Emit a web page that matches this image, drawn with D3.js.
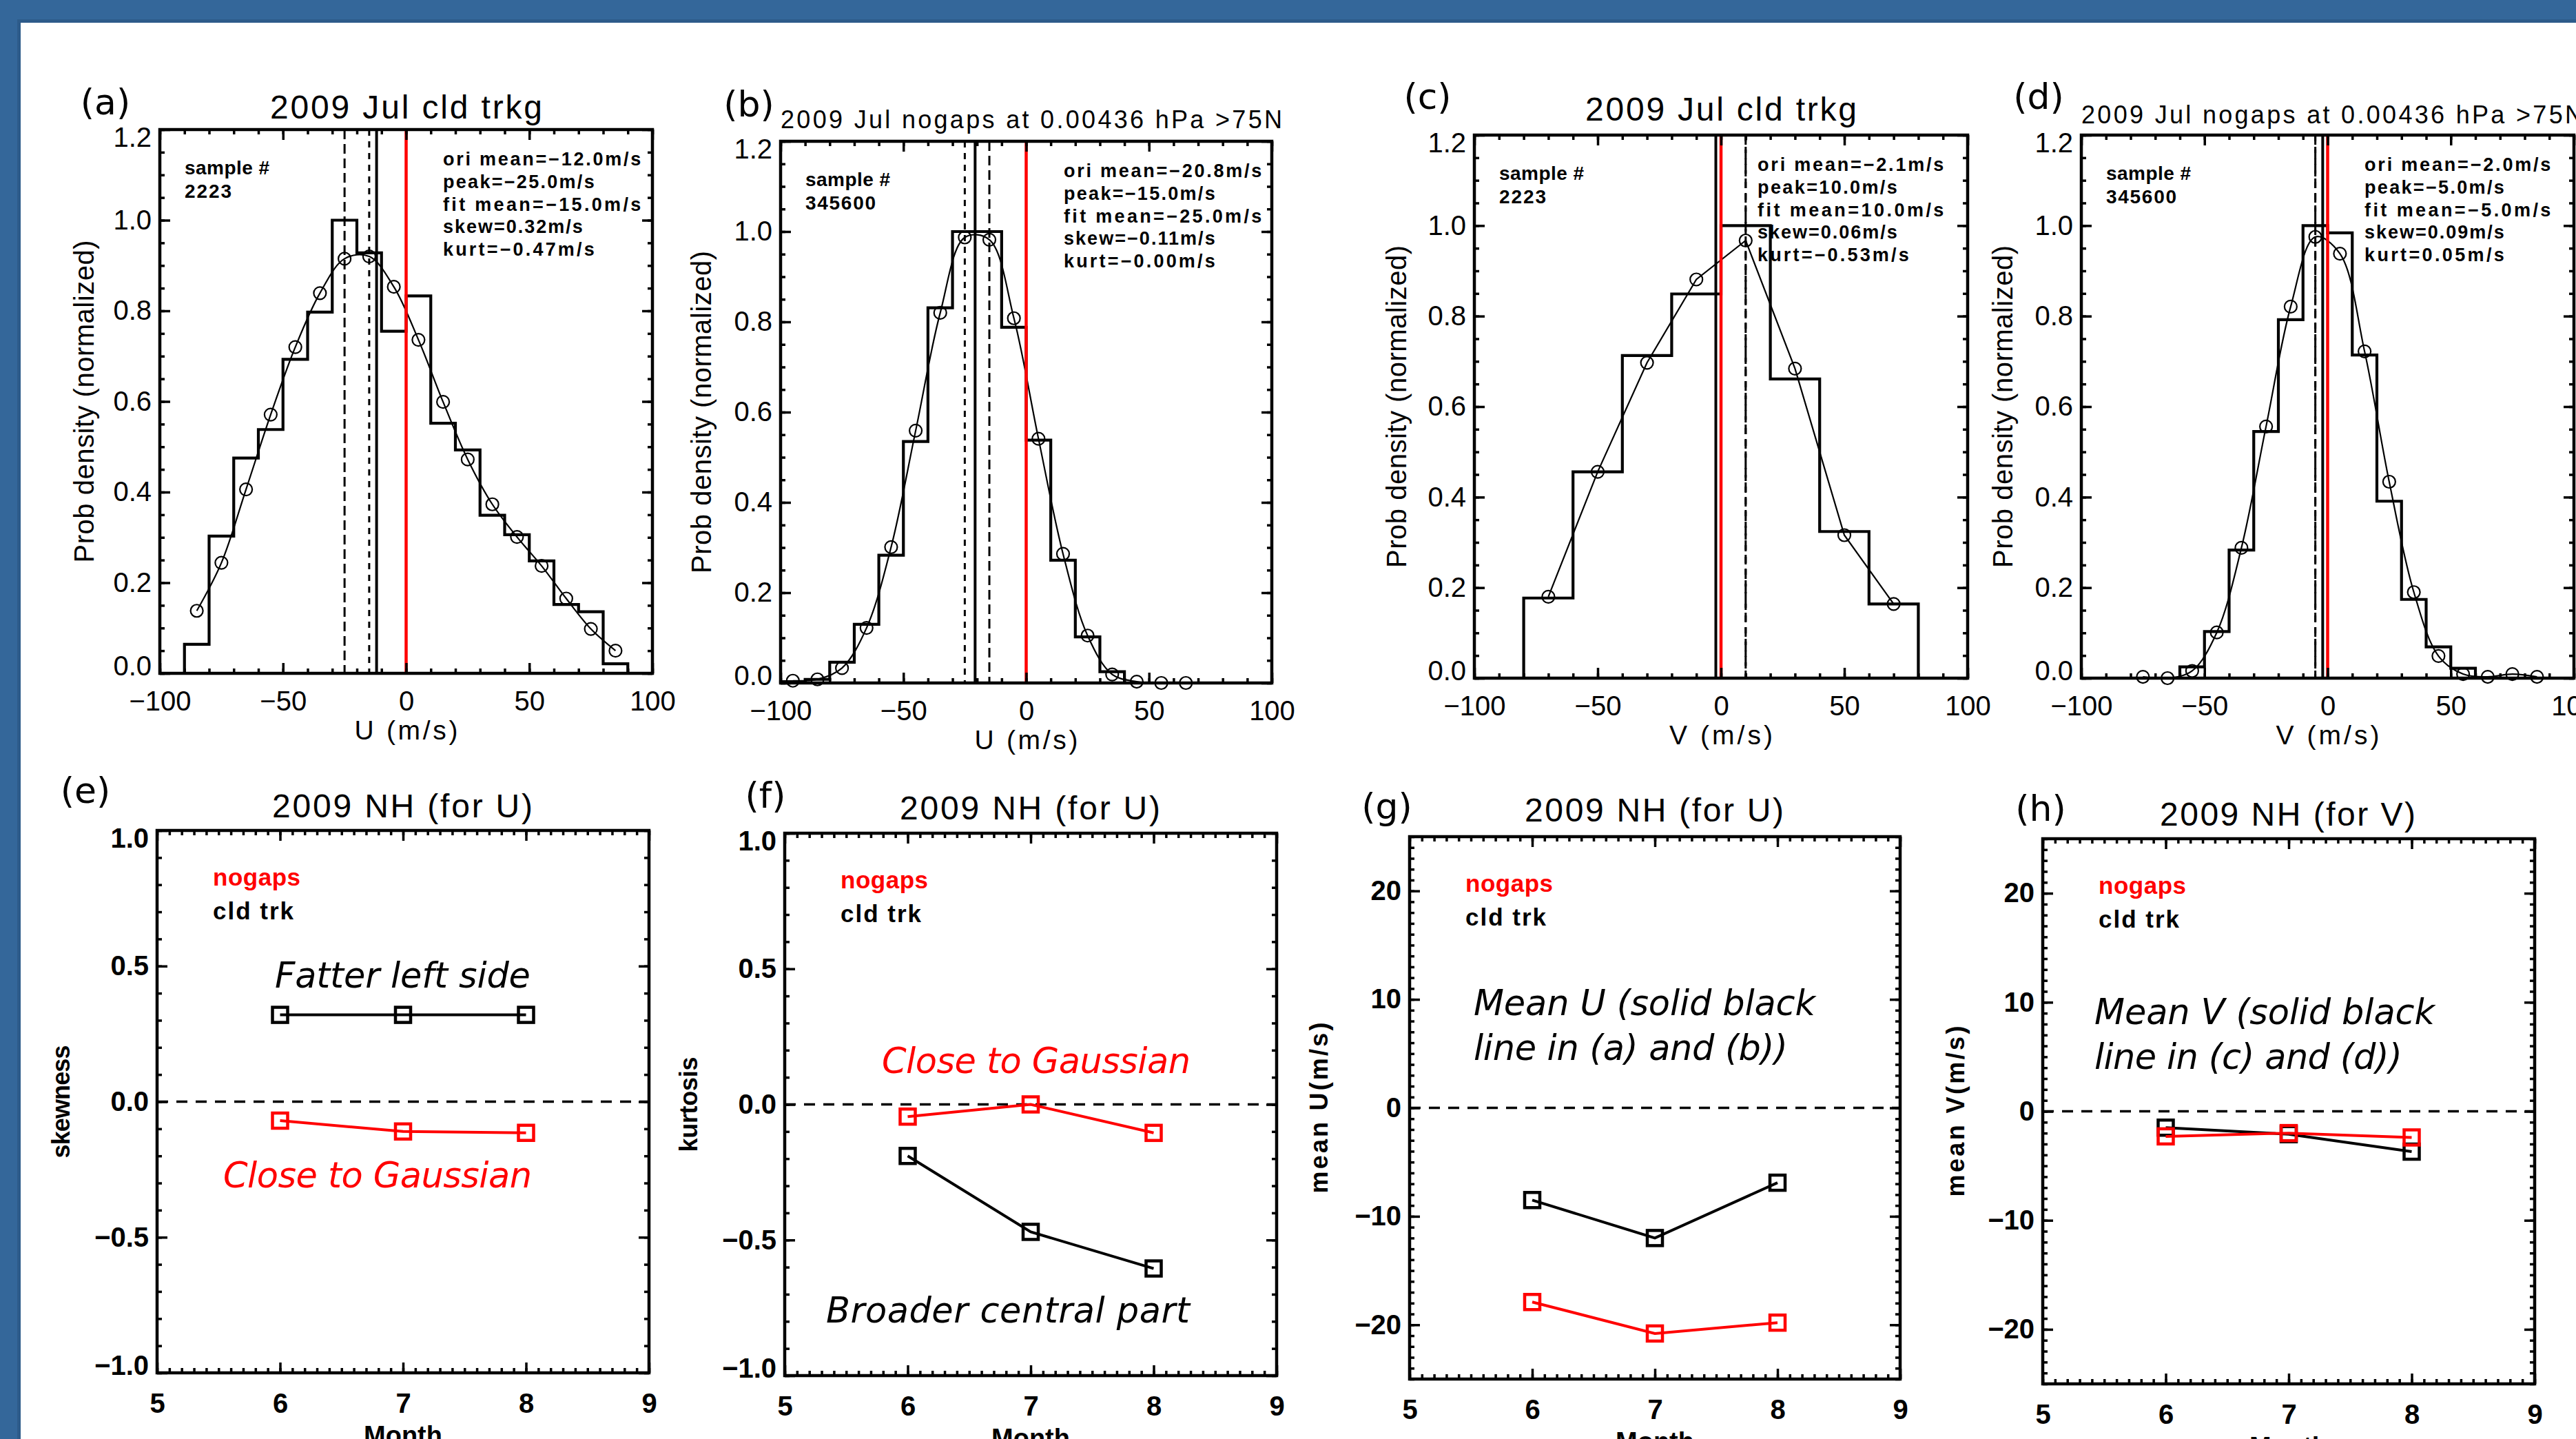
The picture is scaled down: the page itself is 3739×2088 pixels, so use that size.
<!DOCTYPE html>
<html>
<head>
<meta charset="utf-8">
<script src="https://cdn.jsdelivr.net/npm/d3@7"></script>
<style>
  html, body { margin: 0; padding: 0; background: #fff; overflow: hidden; }
  svg { display: block; }
</style>
</head>
<body>
<svg id="chart" width="3739" height="2088"></svg>
<script>
/* ============================================================
   PDFs of U / V winds (cloud tracking vs NOGAPS) + monthly stats
   ============================================================ */

// --- (a) cloud-tracked U, July ---
const cldU_edges = [-90, -80, -70, -60, -50, -40, -30, -20, -10, 0, 10, 20, 30, 40, 50, 60, 70, 80, 90];
const cldU_hist = [0.064, 0.303, 0.475, 0.538, 0.693, 0.797, 1.0, 0.928, 0.755, 0.833, 0.552, 0.493, 0.349, 0.306, 0.248, 0.152, 0.136, 0.021];
const cldU_fitX = [-85, -75, -65, -55, -45, -35, -25, -15, -5, 5, 15, 25, 35, 45, 55, 65, 75, 85];
const cldU_fit = [0.138, 0.244, 0.406, 0.571, 0.720, 0.839, 0.915, 0.920, 0.853, 0.736, 0.599, 0.472, 0.373, 0.301, 0.237, 0.165, 0.098, 0.050];
const cldU_marks = { ori: -12.0, peak: -25.0, fit: -15.0 };
const cldU_stats = ['ori mean=−12.0m/s', 'peak=−25.0m/s', 'fit mean=−15.0m/s', 'skew=0.32m/s', 'kurt=−0.47m/s'];

// --- (b) NOGAPS U, July ---
const nogU_edges = [-100, -90, -80, -70, -60, -50, -40, -30, -20, -10, 0, 10, 20, 30, 40, 50];
const nogU_hist = [0.003, 0.008, 0.046, 0.130, 0.283, 0.535, 0.831, 1.0, 1.0, 0.788, 0.538, 0.272, 0.102, 0.025, 0.0];
const nogU_fitX = [-95, -85, -75, -65, -55, -45, -35, -25, -15, -5, 5, 15, 25, 35, 45, 55, 65];
const nogU_fit = [0.005, 0.008, 0.033, 0.122, 0.301, 0.559, 0.820, 0.987, 0.982, 0.808, 0.541, 0.286, 0.105, 0.019, 0.003, 0.0, 0.0];
const nogU_marks = { ori: -20.8, peak: -15.0, fit: -25.0 };
const nogU_stats = ['ori mean=−20.8m/s', 'peak=−15.0m/s', 'fit mean=−25.0m/s', 'skew=−0.11m/s', 'kurt=−0.00m/s'];

// --- (c) cloud-tracked V, July ---
const cldV_edges = [-80, -60, -40, -20, 0, 20, 40, 60, 80];
const cldV_hist = [0.177, 0.456, 0.713, 0.849, 1.0, 0.661, 0.324, 0.164];
const cldV_fitX = [-70, -50, -30, -10, 10, 30, 50, 70];
const cldV_fit = [0.180, 0.456, 0.697, 0.881, 0.967, 0.684, 0.316, 0.164];
const cldV_marks = { ori: -2.1, peak: 10.0, fit: 10.0 };
const cldV_stats = ['ori mean=−2.1m/s', 'peak=10.0m/s', 'fit mean=10.0m/s', 'skew=0.06m/s', 'kurt=−0.53m/s'];

// --- (d) NOGAPS V, July ---
const nogV_edges = [-60, -50, -40, -30, -20, -10, 0, 10, 20, 30, 40, 50, 60];
const nogV_hist = [0.025, 0.103, 0.283, 0.545, 0.792, 1.0, 0.984, 0.714, 0.391, 0.174, 0.069, 0.022];
const nogV_fitX = [-75, -65, -55, -45, -35, -25, -15, -5, 5, 15, 25, 35, 45, 55, 65, 75, 85];
const nogV_fit = [0.003, 0.0, 0.016, 0.101, 0.288, 0.556, 0.821, 0.975, 0.938, 0.722, 0.434, 0.190, 0.049, 0.009, 0.003, 0.009, 0.003];
const nogV_marks = { ori: -2.0, peak: -5.0, fit: -5.0 };
const nogV_stats = ['ori mean=−2.0m/s', 'peak=−5.0m/s', 'fit mean=−5.0m/s', 'skew=0.09m/s', 'kurt=0.05m/s'];

// --- (e)-(h) monthly statistics ---
const months = [6, 7, 8];
const skewCld = [0.32, 0.32, 0.32];
const skewNog = [-0.07, -0.11, -0.115];
const kurtCld = [-0.19, -0.47, -0.605];
const kurtNog = [-0.045, 0.0, -0.105];
const meanUCld = [-8.5, -12.0, -6.9];
const meanUNog = [-17.9, -20.8, -19.8];
const meanVCld = [-1.5, -2.1, -3.7];
const meanVNog = [-2.3, -2.0, -2.4];

// --- tick labels ---
const pdfXTicks = [-100, -50, 0, 50, 100];
const pdfYTicks = [0, 0.2, 0.4, 0.6, 0.8, 1.0, 1.2];
const monthTicks = [5, 6, 7, 8, 9];
const momentTicks = [-1.0, -0.5, 0.0, 0.5, 1.0];
const meanTicks = [-20, -10, 0, 10, 20];

const FONT = '"Liberation Sans", Arial, sans-serif';
const IFONT = '"DejaVu Sans", sans-serif';
const RED = '#ff0000';

const svg = d3.select('#chart');

// --- Slide frame ---
svg.append('rect').attr('width', 3739).attr('height', 2088).attr('fill', '#34679a');
svg.append('rect').attr('x', 25).attr('y', 28).attr('width', 3739).attr('height', 2088).attr('fill', '#2d5b8a');
svg.append('rect').attr('x', 30).attr('y', 33).attr('width', 3739).attr('height', 2088).attr('fill', '#ffffff');

// --- Helpers ---
function label(x, y, str, o = {}) {
    const t = svg.append('text')
        .attr('x', x).attr('y', y)
        .attr('font-family', o.family || FONT)
        .attr('font-size', o.size || 40)
        .attr('font-weight', o.weight || 'normal')
        .attr('font-style', o.italic ? 'italic' : 'normal')
        .attr('fill', o.color || '#000')
        .attr('text-anchor', o.anchor || 'start')
        .text(str);
    if (o.baseline) t.attr('dominant-baseline', o.baseline);
    if (o.width) t.attr('textLength', o.width).attr('lengthAdjust', 'spacing');
    if (o.rotate) t.attr('transform', `rotate(-90,${x},${y})`);
    return t;
}

function frameAxes(x, y, o) {
    const [x0, x1] = x.range();
    const [y1, y0] = y.range();
    const [yMin, yMax] = y.domain();
    const g = svg.append('g');
    const put = (axis, tx, ty) => {
        const a = g.append('g').attr('transform', `translate(${tx},${ty})`).call(axis);
        a.select('.domain').remove();
        a.selectAll('.tick line').attr('stroke', '#000').attr('stroke-width', 3.5);
        a.attr('font-family', FONT).attr('font-size', o.fontSize).attr('font-weight', o.fontWeight);
        a.selectAll('text').attr('fill', '#000');
        return a;
    };
    put(d3.axisBottom(x).tickValues(o.xMinor).tickSize(-7).tickFormat(''), 0, y1);
    put(d3.axisBottom(x).tickValues(o.xMajor).tickSize(-15).tickPadding(o.padX).tickFormat(o.fmtX), 0, y1);
    put(d3.axisTop(x).tickValues(o.xMinor).tickSize(-7).tickFormat(''), 0, y0);
    put(d3.axisTop(x).tickValues(o.xMajor).tickSize(-15).tickFormat(''), 0, y0);
    put(d3.axisLeft(y).tickValues(o.yMinor).tickSize(-7).tickFormat(''), x0, 0);
    const left = put(d3.axisLeft(y).tickValues(o.yMajor).tickSize(-15).tickPadding(12).tickFormat(o.fmtY), x0, 0);
    // end labels are pulled inside the box range, as IDL does
    left.selectAll('.tick').filter(d => d === yMin).select('text').attr('dy', '0.05em');
    left.selectAll('.tick').filter(d => d === yMax).select('text').attr('dy', '0.6em');
    put(d3.axisRight(y).tickValues(o.yMinor).tickSize(-7).tickFormat(''), x1, 0);
    put(d3.axisRight(y).tickValues(o.yMajor).tickSize(-15).tickFormat(''), x1, 0);
    g.append('rect').attr('x', x0).attr('y', y0).attr('width', x1 - x0).attr('height', y1 - y0)
        .attr('fill', 'none').attr('stroke', '#000').attr('stroke-width', 4.5);
}

// --- Part 1: PDF panels ---
function drawPdfPanel(p) {
    const [bx0, by0, bx1, by1] = p.box;
    const x = d3.scaleLinear().domain([-100, 100]).range([bx0, bx1]);
    const y = d3.scaleLinear().domain([0, 1.2]).range([by1, by0]);

    // histogram as a step outline
    const pts = [[p.edges[0], 0]];
    p.hist.forEach((v, i) => { pts.push([p.edges[i], v]); pts.push([p.edges[i + 1], v]); });
    pts.push([p.edges[p.edges.length - 1], 0]);
    svg.append('path').datum(pts)
        .attr('d', d3.line().x(d => x(d[0])).y(d => y(d[1])))
        .attr('fill', 'none').attr('stroke', '#000').attr('stroke-width', 4.2).attr('stroke-linejoin', 'miter');

    // fitted curve + circles
    const fit = p.fitX.map((v, i) => [v, p.fit[i]]);
    svg.append('path').datum(fit)
        .attr('d', d3.line().x(d => x(d[0])).y(d => y(d[1])).curve(p.smooth ? d3.curveCatmullRom : d3.curveLinear))
        .attr('fill', 'none').attr('stroke', '#000').attr('stroke-width', 2.2);
    svg.append('g').selectAll('circle').data(fit).join('circle')
        .attr('cx', d => x(d[0])).attr('cy', d => y(d[1])).attr('r', 9)
        .attr('fill', 'none').attr('stroke', '#000').attr('stroke-width', 2.2);

    // reference lines
    const vline = (v, color, w, dash) => {
        const l = svg.append('line').attr('x1', x(v)).attr('x2', x(v)).attr('y1', by0).attr('y2', by1)
            .attr('stroke', color).attr('stroke-width', w);
        if (dash) l.attr('stroke-dasharray', dash);
    };
    vline(p.marks.peak, '#000', 3, '14,7');
    vline(p.marks.fit, '#000', 3, '9,8');
    vline(p.marks.ori, '#000', 4, null);
    vline(0, RED, 4.5, null);

    frameAxes(x, y, {
        xMajor: pdfXTicks, xMinor: d3.range(0, 21).map(i => -100 + i * 10),
        yMajor: pdfYTicks, yMinor: d3.range(0, 25).map(i => i * 0.05),
        fmtX: d3.format('d'), fmtY: d3.format('.1f'),
        padX: 26, fontSize: 40, fontWeight: 'normal'
    });

    // text
    label(bx0 + 36, by0 + 65, 'sample #', { size: 28, weight: 'bold', width: 123 });
    label(bx0 + 36, by0 + 99, p.sample, { size: 28, weight: 'bold', width: p.sample.length * 17 });
    p.stats.forEach((s, i) => {
        label(bx0 + 411, by0 + 52 + i * 32.8, s, { size: 27, weight: 'bold', width: s.length * 16.9 });
    });
    label(p.letter[0], p.letter[1], p.letter[2], { family: IFONT, size: 52, anchor: 'middle', baseline: 'central' });
    label(p.title[0], p.title[1], p.title[2], { size: p.title[3], width: p.title[4] });
    label(x(0), by1 + 96, p.xTitle, { size: 39, anchor: 'middle', width: 150 });
    label(p.yTitleX, (by0 + by1) / 2, 'Prob density (normalized)', { size: 40, anchor: 'middle', rotate: true, width: 468 });
}

drawPdfPanel({
    box: [232, 188, 947, 977], edges: cldU_edges, hist: cldU_hist, fitX: cldU_fitX, fit: cldU_fit, smooth: true,
    marks: cldU_marks, stats: cldU_stats, sample: '2223',
    letter: [153, 148, '(a)'], title: [392, 172, '2009 Jul cld trkg', 48, 395],
    xTitle: 'U (m/s)', yTitleX: 136
});
drawPdfPanel({
    box: [1133, 205, 1846, 991], edges: nogU_edges, hist: nogU_hist, fitX: nogU_fitX, fit: nogU_fit, smooth: true,
    marks: nogU_marks, stats: nogU_stats, sample: '345600',
    letter: [1087, 151, '(b)'], title: [1133, 186, '2009 Jul nogaps at 0.00436 hPa >75N', 36, 728],
    xTitle: 'U (m/s)', yTitleX: 1032
});
drawPdfPanel({
    box: [2140, 196, 2856, 984], edges: cldV_edges, hist: cldV_hist, fitX: cldV_fitX, fit: cldV_fit, smooth: false,
    marks: cldV_marks, stats: cldV_stats, sample: '2223',
    letter: [2072, 140, '(c)'], title: [2301, 175, '2009 Jul cld trkg', 48, 394],
    xTitle: 'V (m/s)', yTitleX: 2041
});
drawPdfPanel({
    box: [3021, 196, 3736, 984], edges: nogV_edges, hist: nogV_hist, fitX: nogV_fitX, fit: nogV_fit, smooth: true,
    marks: nogV_marks, stats: nogV_stats, sample: '345600',
    letter: [2959, 140, '(d)'], title: [3021, 179, '2009 Jul nogaps at 0.00436 hPa >75N', 36, 728],
    xTitle: 'V (m/s)', yTitleX: 2921
});

// --- Part 2: monthly statistics panels ---
function drawStatPanel(p) {
    const [bx0, by0, bx1, by1] = p.box;
    const x = d3.scaleLinear().domain([5, 9]).range([bx0, bx1]);
    const y = d3.scaleLinear().domain(p.yDomain).range([by1, by0]);

    svg.append('line').attr('x1', bx0).attr('x2', bx1).attr('y1', y(0)).attr('y2', y(0))
        .attr('stroke', '#000').attr('stroke-width', 3.5).attr('stroke-dasharray', '16,12');

    const series = (vals, color) => {
        const pts = months.map((m, i) => [m, vals[i]]);
        svg.append('path').datum(pts)
            .attr('d', d3.line().x(d => x(d[0])).y(d => y(d[1])))
            .attr('fill', 'none').attr('stroke', color).attr('stroke-width', 4);
        svg.append('g').selectAll('rect').data(pts).join('rect')
            .attr('x', d => x(d[0]) - 11).attr('y', d => y(d[1]) - 11)
            .attr('width', 22).attr('height', 22)
            .attr('fill', 'none').attr('stroke', color).attr('stroke-width', 4.5);
    };
    series(p.cld, '#000');
    series(p.nog, RED);

    frameAxes(x, y, {
        xMajor: monthTicks, xMinor: d3.range(0, 41).map(i => 5 + i * 0.1),
        yMajor: p.yTicks, yMinor: p.yMinor,
        fmtX: d3.format('d'), fmtY: p.fmtY,
        padX: 30, fontSize: 40, fontWeight: 'bold'
    });

    label(bx0 + 81, by0 + 80, 'nogaps', { size: 35, weight: 'bold', color: RED, width: 127 });
    label(bx0 + 81, by0 + 129, 'cld trk', { size: 35, weight: 'bold', width: 117 });
    label(p.letter[0], p.letter[1], p.letter[2], { family: IFONT, size: 52, anchor: 'middle', baseline: 'central' });
    label(p.title[0], p.title[1], p.title[2], { size: 48, width: p.title[3] });
    label(x(7), by1 + 104, 'Month', { size: 38, weight: 'bold', anchor: 'middle' });
    label(p.yTitle[0], (by0 + by1) / 2, p.yTitle[1], { size: 36, weight: 'bold', anchor: 'middle', rotate: true, width: p.yTitle[2] });
    p.notes.forEach(n => label(n[0], n[1], n[2], { family: IFONT, size: 51, italic: true, color: n[4] || '#000', width: n[3] }));
}

const momentMinor = d3.range(0, 21).map(i => -1 + i * 0.1);
const meanMinor = d3.range(-25, 26);

drawStatPanel({
    box: [228, 1205, 942, 1992], yDomain: [-1, 1], yTicks: momentTicks, yMinor: momentMinor, fmtY: d3.format('.1f'),
    cld: skewCld, nog: skewNog,
    letter: [124, 1147, '(e)'], title: [395, 1186, '2009 NH (for U)', 378], yTitle: [101, 'skewness', 164],
    notes: [[399, 1433, 'Fatter left side', 371], [324, 1723, 'Close to Gaussian', 448, RED]]
});
drawStatPanel({
    box: [1139, 1209, 1853, 1996], yDomain: [-1, 1], yTicks: momentTicks, yMinor: momentMinor, fmtY: d3.format('.1f'),
    cld: kurtCld, nog: kurtNog,
    letter: [1111, 1154, '(f)'], title: [1306, 1189, '2009 NH (for U)', 378], yTitle: [1012, 'kurtosis', 138],
    notes: [[1280, 1557, 'Close to Gaussian', 448, RED], [1199, 1919, 'Broader central part', 528]]
});
drawStatPanel({
    box: [2046, 1214, 2758, 2001], yDomain: [-25, 25], yTicks: meanTicks, yMinor: meanMinor, fmtY: d3.format('d'),
    cld: meanUCld, nog: meanUNog,
    letter: [2013, 1170, '(g)'], title: [2213, 1192, '2009 NH (for U)', 376], yTitle: [1927, 'mean U(m/s)', 248],
    notes: [[2139, 1473, 'Mean U (solid black', 496], [2139, 1538, 'line in (a) and (b))', 456]]
});
drawStatPanel({
    box: [2965, 1217, 3679, 2008], yDomain: [-25, 25], yTicks: meanTicks, yMinor: meanMinor, fmtY: d3.format('d'),
    cld: meanVCld, nog: meanVNog,
    letter: [2962, 1173, '(h)'], title: [3135, 1198, '2009 NH (for V)', 371], yTitle: [2851, 'mean V(m/s)', 248],
    notes: [[3040, 1486, 'Mean V (solid black', 494], [3040, 1551, 'line in (c) and (d))', 447]]
});
</script>
</body>
</html>
